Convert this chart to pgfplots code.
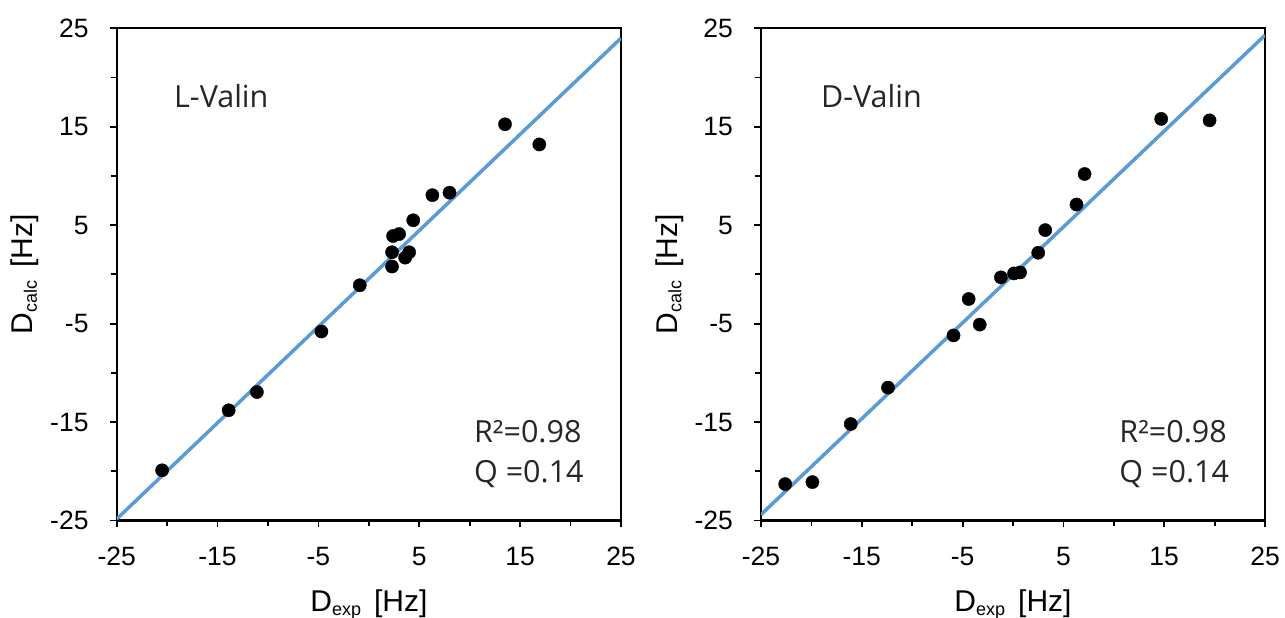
\documentclass[border=0pt]{standalone}
\usepackage{fontspec}
\setmainfont{Liberation Sans}
\newfontfamily\annfont{Open Sans}
\usepackage{pgfplots}
\pgfplotsset{compat=1.18}
\definecolor{fitblue}{HTML}{5B9BD5}
\definecolor{anngray}{HTML}{262626}
\newcommand\sub[1]{\raisebox{-4pt}{\fontsize{18}{18}\selectfont #1}}

\pgfplotsset{rdcstyle/.style={
  width=504.3pt, height=492.2pt, scale only axis,
  xmin=-25, xmax=25, ymin=-25, ymax=25,
  xtick={-25,-15,-5,5,15,25}, ytick={-25,-15,-5,5,15,25},
  minor xtick={-20,-10,0,10,20}, minor ytick={-20,-10,0,10,20},
  tick align=outside, tick pos=left,
  major tick length=7pt, minor tick length=6pt,
  line width=2.3pt,
  axis line style={line width=2.3pt},
  every outer x axis line/.append style={line width=2.3pt},
  every outer y axis line/.append style={line width=2.3pt},
  every tick/.style={black, line width=1.8pt},
  /pgf/number format/assume math mode=true,
  ticklabel style={font=\fontsize{26.5}{26.5}\selectfont},
  xticklabel style={inner sep=0pt, anchor=north, yshift=-18.5pt},
  yticklabel style={inner sep=0pt, anchor=east, xshift=-20pt},
  label style={font=\fontsize{30}{30}\selectfont, inner sep=0pt},
  xlabel={D\sub{exp}\hspace{13pt}[Hz]},
  ylabel={D\sub{calc}\hspace{13pt}[Hz]},
  xlabel style={at={(axis description cs:0.5,-0.1859)}, anchor=base},
  ylabel style={at={(axis description cs:-0.166,0.5)}, anchor=base, rotate=0},
}}

\begin{document}
\begin{tikzpicture}
\path[use as bounding box] (0,0) rectangle (1285pt,618pt);
\begin{axis}[rdcstyle, at={(116.7pt,97.5pt)}, anchor=south west]
\addplot[fitblue, line width=3.5pt, no marks] coordinates {(-25,-24.85) (25,24.0)};
\addplot[only marks, mark=*, mark size=6.6pt, black, mark options={line width=0.4pt}] coordinates {
(-20.5,-19.9) (-13.9,-13.8) (-11.1,-11.95) (-4.7,-5.8) (-0.9,-1.1)
(2.3,0.8) (2.3,2.25) (2.4,3.9) (3.0,4.1) (3.6,1.7) (4.0,2.25)
(4.4,5.5) (6.3,8.05) (8.0,8.3) (13.5,15.25) (16.9,13.2)};
\node[anchor=base west, inner sep=0pt, font=\annfont\fontsize{30.5}{30.5}\selectfont, text=anngray] at (axis description cs:0.1116,0.840) {L-Valin};
\node[anchor=base west, inner sep=0pt, font=\annfont\fontsize{30.5}{30.5}\selectfont, text=anngray] at (axis description cs:0.7065,0.1575) {R²=0.98};
\node[anchor=base west, inner sep=0pt, font=\annfont\fontsize{30.5}{30.5}\selectfont, text=anngray] at (axis description cs:0.7065,0.0762) {Q =0.14};
\end{axis}
\begin{axis}[rdcstyle, at={(761pt,97.5pt)}, anchor=south west, width=504pt]
\addplot[fitblue, line width=3.5pt, no marks] coordinates {(-25,-24.4) (25,24.3)};
\addplot[only marks, mark=*, mark size=6.6pt, black, mark options={line width=0.4pt}] coordinates {
(-22.6,-21.3) (-19.9,-21.1) (-16.1,-15.2) (-12.4,-11.5) (-5.9,-6.2)
(-3.3,-5.1) (-4.4,-2.5) (-1.2,-0.3) (0.1,0.1) (0.7,0.2) (2.5,2.2)
(3.2,4.5) (6.3,7.1) (7.1,10.2) (14.7,15.8) (19.5,15.65)};
\node[anchor=base west, inner sep=0pt, font=\annfont\fontsize{30.5}{30.5}\selectfont, text=anngray] at (axis description cs:0.117,0.840) {D-Valin};
\node[anchor=base west, inner sep=0pt, font=\annfont\fontsize{30.5}{30.5}\selectfont, text=anngray] at (axis description cs:0.709,0.1575) {R²=0.98};
\node[anchor=base west, inner sep=0pt, font=\annfont\fontsize{30.5}{30.5}\selectfont, text=anngray] at (axis description cs:0.709,0.0762) {Q =0.14};
\end{axis}
\end{tikzpicture}
\end{document}
